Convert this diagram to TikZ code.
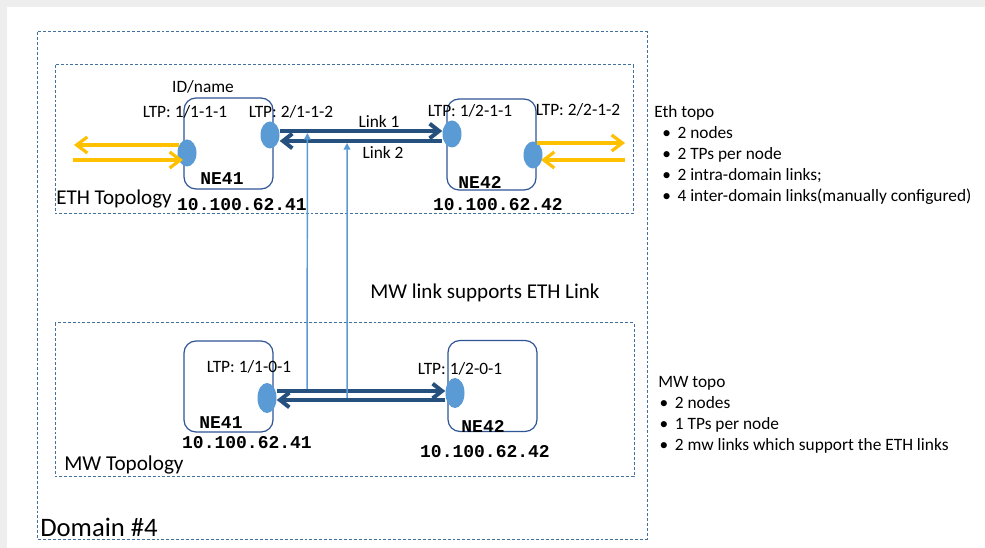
\documentclass[tikz,border=0pt]{standalone}
\usepackage{fontspec}
\setmainfont{Carlito}
\newfontfamily\nemono{Liberation Mono}
\usetikzlibrary{arrows.meta, positioning, calc, shapes.geometric}
\definecolor{dmborder}{RGB}{65,113,156}
\definecolor{dmbox}{RGB}{47,85,151}
\definecolor{dmlink}{RGB}{38,80,125}
\definecolor{dmport}{RGB}{91,155,213}
\definecolor{dmyellow}{RGB}{255,192,0}
\definecolor{dmshade}{RGB}{238,238,238}
\tikzset{
  topoframe/.style={draw=dmborder, line width=0.75pt, dash pattern=on 2.2pt off 1.5pt},
  nebox/.style={draw=dmbox, line width=0.9pt, rounded corners=9pt,
    minimum width=66.75pt, minimum height=68.25pt, inner sep=0pt},
  port/.style={ellipse, fill=dmport, minimum width=14.25pt, minimum height=20.25pt, inner sep=0pt},
  mwport/.style={port, minimum height=22.5pt},
  ltp/.style={font=\fontsize{13}{15}\selectfont, inner sep=0pt},
  nename/.style={font=\nemono\bfseries\fontsize{13.5}{15}\selectfont, inner sep=0pt},
  ethlink/.style={draw=dmlink, line width=3pt, -{Straight Barb[length=7pt, width=11pt]}},
  ylink/.style={draw=dmyellow, line width=2.4pt, -{Straight Barb[length=8pt, width=12pt]}},
  support/.style={draw=dmport, line width=1.1pt, -{Triangle[length=5pt, width=5pt]}}
}
\begin{document}
\begin{tikzpicture}[x=0.75pt, y=-0.75pt]
\useasboundingbox (0,0) rectangle (985,548);
% ---- page shade ----
\fill[dmshade] (0,0) rectangle (985,548);
\fill[white] (7,7) rectangle (985,548);

% ---- frames ----
\draw[topoframe] (37,32) rectangle (647,539);
\draw[topoframe] (55,65) rectangle (633,214);
\draw[topoframe] (55,323) rectangle (634,477);

\node[font=\fontsize{20}{24}\selectfont, anchor=west, inner sep=0pt] (dom) at (40,527) {Domain \#4};
\node[font=\fontsize{15.8}{18}\selectfont, anchor=west, inner sep=0pt] (ethname) at (56,199) {ETH Topology};
\node[font=\fontsize{15.9}{18}\selectfont, anchor=west, inner sep=0pt] (mwname) at (64,465) {MW Topology};

% ---- ETH nodes ----
\node[nebox] (ethne41) at (228.5,143.5) {};
\node[nebox] (ethne42) at (491.5,144.5) {};
\node[port] (e41l) at (187,153) {};
\node[port] (e41r) at (270,135) {};
\node[port] (e42l) at (452,134) {};
\node[port] (e42r) at (533,155) {};

\node[ltp] (idname) at (203,87) {ID/name};
\node[ltp] (l411) at (185,112) {LTP: 1/1-1-1};
\node[ltp] (l412) at (291,112) {LTP: 2/1-1-2};
\node[ltp] (l421) at (470,111) {LTP: 1/2-1-1};
\node[ltp] (l422) at (578,110) {LTP: 2/2-1-2};
\node[nename] (n41) at (222,179) {NE41};
\node[nename] (n42) at (480,182) {NE42};
\node[nename] (ip41) at (242,205) {10.100.62.41};
\node[nename] (ip42) at (498,205) {10.100.62.42};

% ---- MW nodes ----
\node[nebox] (mwne41) at (228.5,386.5) {};
\node[nebox] (mwne42) at (492.5,386) {};
\node[mwport] (m41) at (267,398) {};
\node[mwport] (m42) at (455,393) {};

\node[ltp] (ml41) at (249,367) {LTP: 1/1-0-1};
\node[ltp] (ml42) at (460,369) {LTP: 1/2-0-1};
\node[nename] (mn41) at (221,423) {NE41};
\node[nename] (mn42) at (483,426) {NE42};
\node[nename] (mip41) at (247,443) {10.100.62.41};
\node[nename] (mip42) at (485,452) {10.100.62.42};

% ---- links ----
\draw[ethlink] ($(e41r.east)+(0,-4)$) -- coordinate[pos=0.17] (lk1) ($(e42l.west)+(0,-3)$);
\draw[ethlink] ($(e42l.west)+(0,7)$) -- coordinate[pos=0.586] (lk2) ($(e41r.east)+(0,6)$);
\node[ltp] (link1) at (379,121) {Link 1};
\node[ltp] (link2) at (383,152) {Link 2};

\draw[ethlink] ($(m41.east)+(0,-7)$) -- coordinate[pos=0.18] (mk1) ($(m42.west)+(0,-2)$);
\draw[ethlink] ($(m42.west)+(0,7)$) -- coordinate[pos=0.583] (mk2) ($(m41.east)+(0,2)$);

\draw[support, shorten <=1.5pt, shorten >=1.5pt] (mk1) -- (lk1);
\draw[support, shorten <=1.5pt, shorten >=1.5pt] (mk2) -- (lk2);
\node[font=\fontsize{15.8}{18}\selectfont, anchor=west, inner sep=0pt] (supports) at (370,293) {MW link supports ETH Link};

% inter-domain links
\coordinate (yl1) at (74,145);
\coordinate (yl2) at (73,160);
\coordinate (yr1) at (625,143);
\coordinate (yr2) at (625,160);
\draw[ylink] ($(e41l.center)+(-8,-8)$) -- (yl1);
\draw[ylink] (yl2) -- ($(e41l.center)+(-4,7)$);
\draw[ylink] ($(e42r.center)+(4,-12)$) -- (yr1);
\draw[ylink] (yr2) -- ($(e42r.center)+(8,5)$);

% ---- notes ----
\node[font=\fontsize{13}{15.75}\selectfont, anchor=north west, align=left, inner sep=0pt] (ethnote) at (654,105)
  {Eth topo\\
   \hspace*{6pt}\textbullet\hspace{5pt}2 nodes\\
   \hspace*{6pt}\textbullet\hspace{5pt}2 TPs per node\\
   \hspace*{6pt}\textbullet\hspace{5pt}2 intra-domain links;\\
   \hspace*{6pt}\textbullet\hspace{5pt}4 inter-domain links(manually configured)};
\node[font=\fontsize{13}{15.75}\selectfont, anchor=north west, align=left, inner sep=0pt] (mwnote) at (658,376)
  {MW topo\\
   \hspace*{1pt}\textbullet\hspace{5pt}2 nodes\\
   \hspace*{1pt}\textbullet\hspace{5pt}1 TPs per node\\
   \hspace*{1pt}\textbullet\hspace{5pt}2 mw links which support the ETH links};
\end{tikzpicture}
\end{document}
